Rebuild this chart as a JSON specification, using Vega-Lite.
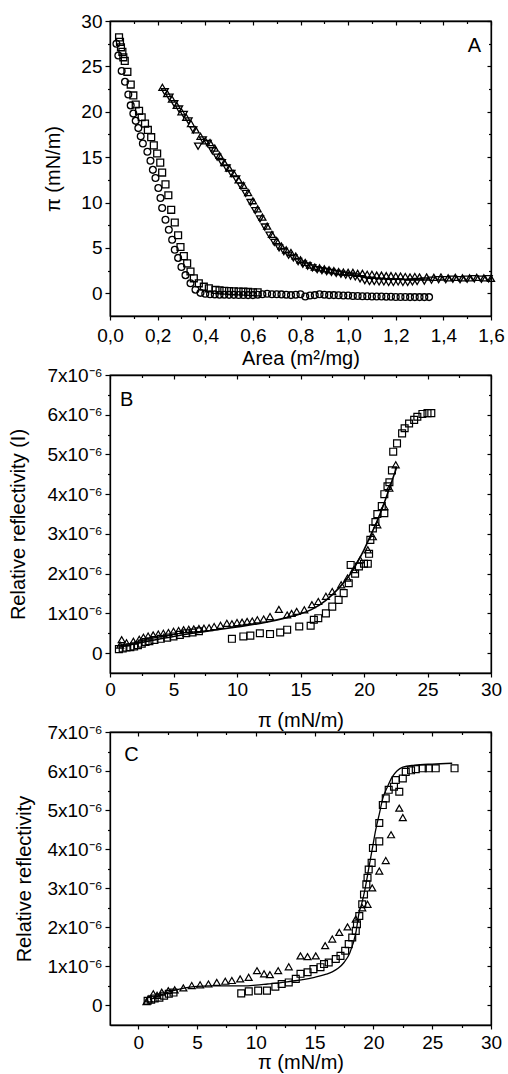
{
  "$schema": "https://vega.github.io/schema/vega-lite/v6.json",
  "background": "white",
  "padding": {"left": 8, "top": 11, "right": 0, "bottom": 0},
  "spacing": 59,
  "bounds": "flush",
  "config": {
    "font": "Liberation Sans",
    "view": {"stroke": "black", "strokeWidth": 1.3},
    "axis": {
      "grid": false,
      "labelFont": "Liberation Sans",
      "titleFont": "Liberation Sans",
      "labelFontSize": 19,
      "titleFontSize": 20,
      "titleFontWeight": "normal",
      "labelColor": "black",
      "titleColor": "black",
      "tickColor": "black",
      "domainColor": "black",
      "domainWidth": 1.3,
      "tickWidth": 1.2,
      "labelFlush": false,
      "labelOverlap": false
    }
  },
  "datasets": {
    "a": [
      {"s": "circle", "x": 0.027, "y": 27.5},
      {"s": "circle", "x": 0.035, "y": 26.2},
      {"s": "circle", "x": 0.049, "y": 24.5},
      {"s": "circle", "x": 0.063, "y": 23.3},
      {"s": "circle", "x": 0.077, "y": 21.9},
      {"s": "circle", "x": 0.087, "y": 20.7},
      {"s": "circle", "x": 0.098, "y": 19.8},
      {"s": "circle", "x": 0.108, "y": 19.0},
      {"s": "circle", "x": 0.119, "y": 18.2},
      {"s": "circle", "x": 0.129, "y": 17.3},
      {"s": "circle", "x": 0.138, "y": 16.5},
      {"s": "circle", "x": 0.157, "y": 15.6},
      {"s": "circle", "x": 0.170, "y": 14.6},
      {"s": "circle", "x": 0.180, "y": 13.6},
      {"s": "circle", "x": 0.191, "y": 12.7},
      {"s": "circle", "x": 0.203, "y": 11.6},
      {"s": "circle", "x": 0.212, "y": 10.5},
      {"s": "circle", "x": 0.219, "y": 9.4},
      {"s": "circle", "x": 0.233, "y": 8.1},
      {"s": "circle", "x": 0.247, "y": 7.0},
      {"s": "circle", "x": 0.261, "y": 5.9},
      {"s": "circle", "x": 0.272, "y": 4.8},
      {"s": "circle", "x": 0.286, "y": 3.9},
      {"s": "circle", "x": 0.300, "y": 2.9},
      {"s": "circle", "x": 0.317, "y": 2.0},
      {"s": "circle", "x": 0.338, "y": 1.1},
      {"s": "circle", "x": 0.359, "y": 0.4},
      {"s": "circle", "x": 0.380, "y": 0.05},
      {"s": "circle", "x": 0.40, "y": -0.05},
      {"s": "circle", "x": 0.42, "y": -0.1},
      {"s": "circle", "x": 0.44, "y": -0.12},
      {"s": "circle", "x": 0.46, "y": -0.15},
      {"s": "circle", "x": 0.48, "y": -0.15},
      {"s": "circle", "x": 0.50, "y": -0.17},
      {"s": "circle", "x": 0.52, "y": -0.17},
      {"s": "circle", "x": 0.54, "y": -0.18},
      {"s": "circle", "x": 0.56, "y": -0.18},
      {"s": "circle", "x": 0.58, "y": -0.2},
      {"s": "circle", "x": 0.60, "y": -0.2},
      {"s": "circle", "x": 0.62, "y": -0.15},
      {"s": "circle", "x": 0.64, "y": -0.1},
      {"s": "circle", "x": 0.66, "y": -0.05},
      {"s": "circle", "x": 0.68, "y": -0.1},
      {"s": "circle", "x": 0.70, "y": -0.1},
      {"s": "circle", "x": 0.72, "y": -0.12},
      {"s": "circle", "x": 0.74, "y": -0.15},
      {"s": "circle", "x": 0.76, "y": -0.2},
      {"s": "circle", "x": 0.78, "y": -0.15},
      {"s": "circle", "x": 0.80, "y": -0.1},
      {"s": "circle", "x": 0.82, "y": -0.35},
      {"s": "circle", "x": 0.84, "y": -0.25},
      {"s": "circle", "x": 0.86, "y": -0.2},
      {"s": "circle", "x": 0.88, "y": -0.1},
      {"s": "circle", "x": 0.90, "y": -0.15},
      {"s": "circle", "x": 0.92, "y": -0.2},
      {"s": "circle", "x": 0.94, "y": -0.2},
      {"s": "circle", "x": 0.96, "y": -0.22},
      {"s": "circle", "x": 0.98, "y": -0.25},
      {"s": "circle", "x": 1.00, "y": -0.25},
      {"s": "circle", "x": 1.02, "y": -0.3},
      {"s": "circle", "x": 1.04, "y": -0.3},
      {"s": "circle", "x": 1.06, "y": -0.32},
      {"s": "circle", "x": 1.08, "y": -0.32},
      {"s": "circle", "x": 1.10, "y": -0.35},
      {"s": "circle", "x": 1.12, "y": -0.35},
      {"s": "circle", "x": 1.14, "y": -0.35},
      {"s": "circle", "x": 1.16, "y": -0.37},
      {"s": "circle", "x": 1.18, "y": -0.37},
      {"s": "circle", "x": 1.20, "y": -0.4},
      {"s": "circle", "x": 1.22, "y": -0.4},
      {"s": "circle", "x": 1.24, "y": -0.4},
      {"s": "circle", "x": 1.26, "y": -0.42},
      {"s": "circle", "x": 1.28, "y": -0.42},
      {"s": "circle", "x": 1.30, "y": -0.42},
      {"s": "circle", "x": 1.32, "y": -0.42},
      {"s": "circle", "x": 1.34, "y": -0.42},
      {"s": "square", "x": 0.038, "y": 28.2},
      {"s": "square", "x": 0.042, "y": 27.7},
      {"s": "square", "x": 0.046, "y": 27.1},
      {"s": "square", "x": 0.052, "y": 26.6},
      {"s": "square", "x": 0.056, "y": 26.0},
      {"s": "square", "x": 0.062, "y": 25.6},
      {"s": "square", "x": 0.073, "y": 24.4},
      {"s": "square", "x": 0.087, "y": 23.0},
      {"s": "square", "x": 0.098, "y": 21.8},
      {"s": "square", "x": 0.108, "y": 20.8},
      {"s": "square", "x": 0.122, "y": 20.1},
      {"s": "square", "x": 0.133, "y": 19.4},
      {"s": "square", "x": 0.147, "y": 18.7},
      {"s": "square", "x": 0.159, "y": 18.0},
      {"s": "square", "x": 0.173, "y": 17.2},
      {"s": "square", "x": 0.184, "y": 16.3},
      {"s": "square", "x": 0.198, "y": 15.4},
      {"s": "square", "x": 0.211, "y": 14.4},
      {"s": "square", "x": 0.219, "y": 13.3},
      {"s": "square", "x": 0.233, "y": 12.0},
      {"s": "square", "x": 0.245, "y": 10.8},
      {"s": "square", "x": 0.257, "y": 9.2},
      {"s": "square", "x": 0.272, "y": 7.8},
      {"s": "square", "x": 0.286, "y": 6.4},
      {"s": "square", "x": 0.296, "y": 5.1},
      {"s": "square", "x": 0.310, "y": 4.1},
      {"s": "square", "x": 0.324, "y": 3.3},
      {"s": "square", "x": 0.338, "y": 2.4},
      {"s": "square", "x": 0.352, "y": 1.65},
      {"s": "square", "x": 0.373, "y": 1.1},
      {"s": "square", "x": 0.394, "y": 0.73},
      {"s": "square", "x": 0.415, "y": 0.55},
      {"s": "square", "x": 0.443, "y": 0.37},
      {"s": "square", "x": 0.46, "y": 0.32},
      {"s": "square", "x": 0.48, "y": 0.28},
      {"s": "square", "x": 0.50, "y": 0.25},
      {"s": "square", "x": 0.52, "y": 0.22},
      {"s": "square", "x": 0.54, "y": 0.2},
      {"s": "square", "x": 0.56, "y": 0.18},
      {"s": "square", "x": 0.58, "y": 0.15},
      {"s": "square", "x": 0.60, "y": 0.12},
      {"s": "square", "x": 0.62, "y": 0.1},
      {"s": "up", "x": 0.22, "y": 22.7},
      {"s": "up", "x": 0.24, "y": 22.0},
      {"s": "up", "x": 0.26, "y": 21.4},
      {"s": "up", "x": 0.28, "y": 20.7},
      {"s": "up", "x": 0.30, "y": 20.0},
      {"s": "up", "x": 0.32, "y": 19.4},
      {"s": "up", "x": 0.34, "y": 18.7},
      {"s": "up", "x": 0.36, "y": 18.0},
      {"s": "up", "x": 0.38, "y": 17.3},
      {"s": "up", "x": 0.40, "y": 16.8},
      {"s": "up", "x": 0.42, "y": 16.6},
      {"s": "up", "x": 0.44, "y": 16.0},
      {"s": "up", "x": 0.46, "y": 15.2},
      {"s": "up", "x": 0.48, "y": 14.4},
      {"s": "up", "x": 0.50, "y": 13.8},
      {"s": "up", "x": 0.52, "y": 13.2},
      {"s": "up", "x": 0.54, "y": 12.5},
      {"s": "up", "x": 0.56, "y": 11.9},
      {"s": "up", "x": 0.58, "y": 11.1},
      {"s": "up", "x": 0.60, "y": 10.2},
      {"s": "up", "x": 0.62, "y": 9.3},
      {"s": "up", "x": 0.64, "y": 8.4},
      {"s": "up", "x": 0.66, "y": 7.4},
      {"s": "up", "x": 0.68, "y": 6.5},
      {"s": "up", "x": 0.70, "y": 5.8},
      {"s": "up", "x": 0.72, "y": 5.2},
      {"s": "up", "x": 0.74, "y": 4.8},
      {"s": "up", "x": 0.76, "y": 4.5},
      {"s": "up", "x": 0.78, "y": 4.1},
      {"s": "up", "x": 0.80, "y": 3.7},
      {"s": "up", "x": 0.82, "y": 3.4},
      {"s": "up", "x": 0.84, "y": 3.1},
      {"s": "up", "x": 0.86, "y": 2.9},
      {"s": "up", "x": 0.88, "y": 2.8},
      {"s": "up", "x": 0.90, "y": 2.7},
      {"s": "up", "x": 0.92, "y": 2.6},
      {"s": "up", "x": 0.94, "y": 2.5},
      {"s": "up", "x": 0.96, "y": 2.4},
      {"s": "up", "x": 0.98, "y": 2.35},
      {"s": "up", "x": 1.00, "y": 2.3},
      {"s": "up", "x": 1.02, "y": 2.3},
      {"s": "up", "x": 1.04, "y": 2.2},
      {"s": "up", "x": 1.06, "y": 2.2},
      {"s": "up", "x": 1.08, "y": 2.1},
      {"s": "up", "x": 1.10, "y": 2.1},
      {"s": "up", "x": 1.12, "y": 2.0},
      {"s": "up", "x": 1.14, "y": 2.0},
      {"s": "up", "x": 1.16, "y": 1.95},
      {"s": "up", "x": 1.18, "y": 1.95},
      {"s": "up", "x": 1.20, "y": 1.9},
      {"s": "up", "x": 1.22, "y": 1.9},
      {"s": "up", "x": 1.24, "y": 1.85},
      {"s": "up", "x": 1.26, "y": 1.8},
      {"s": "up", "x": 1.28, "y": 1.85},
      {"s": "up", "x": 1.30, "y": 1.8},
      {"s": "up", "x": 1.33, "y": 1.8},
      {"s": "up", "x": 1.36, "y": 1.75},
      {"s": "up", "x": 1.39, "y": 1.8},
      {"s": "up", "x": 1.42, "y": 1.7},
      {"s": "up", "x": 1.45, "y": 1.75},
      {"s": "up", "x": 1.48, "y": 1.7},
      {"s": "up", "x": 1.51, "y": 1.7},
      {"s": "up", "x": 1.54, "y": 1.75},
      {"s": "up", "x": 1.57, "y": 1.7},
      {"s": "up", "x": 1.60, "y": 1.65},
      {"s": "down", "x": 0.23, "y": 22.2},
      {"s": "down", "x": 0.25, "y": 21.6},
      {"s": "down", "x": 0.27, "y": 20.9},
      {"s": "down", "x": 0.29, "y": 20.3},
      {"s": "down", "x": 0.31, "y": 19.7},
      {"s": "down", "x": 0.33, "y": 19.0},
      {"s": "down", "x": 0.35, "y": 18.0},
      {"s": "down", "x": 0.37, "y": 16.2},
      {"s": "down", "x": 0.39, "y": 16.9},
      {"s": "down", "x": 0.41, "y": 16.5},
      {"s": "down", "x": 0.43, "y": 15.7},
      {"s": "down", "x": 0.45, "y": 15.0},
      {"s": "down", "x": 0.47, "y": 14.4},
      {"s": "down", "x": 0.49, "y": 13.8},
      {"s": "down", "x": 0.51, "y": 13.2},
      {"s": "down", "x": 0.53, "y": 12.6},
      {"s": "down", "x": 0.55, "y": 11.8},
      {"s": "down", "x": 0.57, "y": 11.0},
      {"s": "down", "x": 0.59, "y": 10.0},
      {"s": "down", "x": 0.61, "y": 9.1},
      {"s": "down", "x": 0.63, "y": 8.2},
      {"s": "down", "x": 0.65, "y": 7.3},
      {"s": "down", "x": 0.67, "y": 6.4},
      {"s": "down", "x": 0.69, "y": 5.6},
      {"s": "down", "x": 0.71, "y": 5.0},
      {"s": "down", "x": 0.73, "y": 4.6},
      {"s": "down", "x": 0.75, "y": 4.2},
      {"s": "down", "x": 0.77, "y": 3.9},
      {"s": "down", "x": 0.79, "y": 3.5},
      {"s": "down", "x": 0.81, "y": 3.2},
      {"s": "down", "x": 0.83, "y": 3.0},
      {"s": "down", "x": 0.85, "y": 2.8},
      {"s": "down", "x": 0.87, "y": 2.6},
      {"s": "down", "x": 0.89, "y": 2.5},
      {"s": "down", "x": 0.91, "y": 2.4},
      {"s": "down", "x": 0.93, "y": 2.3},
      {"s": "down", "x": 0.95, "y": 2.2},
      {"s": "down", "x": 0.97, "y": 2.1},
      {"s": "down", "x": 0.99, "y": 2.0},
      {"s": "down", "x": 1.01, "y": 1.9},
      {"s": "down", "x": 1.03, "y": 1.8},
      {"s": "down", "x": 1.05, "y": 1.6},
      {"s": "down", "x": 1.07, "y": 1.4},
      {"s": "down", "x": 1.09, "y": 1.3},
      {"s": "down", "x": 1.11, "y": 1.3},
      {"s": "down", "x": 1.13, "y": 1.25},
      {"s": "down", "x": 1.15, "y": 1.25},
      {"s": "down", "x": 1.17, "y": 1.2},
      {"s": "down", "x": 1.19, "y": 1.2},
      {"s": "down", "x": 1.21, "y": 1.25},
      {"s": "down", "x": 1.23, "y": 1.2},
      {"s": "down", "x": 1.25, "y": 1.2},
      {"s": "down", "x": 1.27, "y": 1.25},
      {"s": "down", "x": 1.29, "y": 1.3},
      {"s": "down", "x": 1.32, "y": 1.35},
      {"s": "down", "x": 1.35, "y": 1.45},
      {"s": "down", "x": 1.38, "y": 1.5},
      {"s": "down", "x": 1.41, "y": 1.5},
      {"s": "down", "x": 1.44, "y": 1.55},
      {"s": "down", "x": 1.47, "y": 1.5},
      {"s": "down", "x": 1.50, "y": 1.55},
      {"s": "down", "x": 1.53, "y": 1.6},
      {"s": "down", "x": 1.56, "y": 1.55},
      {"s": "down", "x": 1.59, "y": 1.6}
    ],
    "b": [
      {"s": "square", "x": 0.7, "y": 1.0e-7},
      {"s": "square", "x": 1.0, "y": 1.2e-7},
      {"s": "square", "x": 1.3, "y": 1.4e-7},
      {"s": "square", "x": 1.6, "y": 1.5e-7},
      {"s": "square", "x": 1.9, "y": 1.7e-7},
      {"s": "square", "x": 2.2, "y": 2.0e-7},
      {"s": "square", "x": 2.5, "y": 2.4e-7},
      {"s": "square", "x": 2.8, "y": 2.8e-7},
      {"s": "square", "x": 3.1, "y": 3.0e-7},
      {"s": "square", "x": 3.5, "y": 3.3e-7},
      {"s": "square", "x": 4.0, "y": 3.6e-7},
      {"s": "square", "x": 4.5, "y": 3.9e-7},
      {"s": "square", "x": 5.0, "y": 4.2e-7},
      {"s": "square", "x": 5.5, "y": 4.6e-7},
      {"s": "square", "x": 6.0, "y": 5.0e-7},
      {"s": "square", "x": 6.5, "y": 5.2e-7},
      {"s": "square", "x": 7.0, "y": 5.5e-7},
      {"s": "square", "x": 9.6, "y": 3.6e-7},
      {"s": "square", "x": 10.5, "y": 4.2e-7},
      {"s": "square", "x": 11.05, "y": 4.4e-7},
      {"s": "square", "x": 11.8, "y": 5.0e-7},
      {"s": "square", "x": 12.6, "y": 4.8e-7},
      {"s": "square", "x": 13.4, "y": 5.2e-7},
      {"s": "square", "x": 13.95, "y": 5.9e-7},
      {"s": "square", "x": 14.9, "y": 6.7e-7},
      {"s": "square", "x": 15.8, "y": 6.9e-7},
      {"s": "square", "x": 16.05, "y": 8.4e-7},
      {"s": "square", "x": 16.4, "y": 8.8e-7},
      {"s": "square", "x": 17.0, "y": 1.0e-6},
      {"s": "square", "x": 17.5, "y": 1.17e-6},
      {"s": "square", "x": 18.0, "y": 1.34e-6},
      {"s": "square", "x": 18.4, "y": 1.51e-6},
      {"s": "square", "x": 18.8, "y": 1.76e-6},
      {"s": "square", "x": 18.95, "y": 2.22e-6},
      {"s": "square", "x": 19.3, "y": 2.0e-6},
      {"s": "square", "x": 19.6, "y": 2.18e-6},
      {"s": "square", "x": 20.0, "y": 2.25e-6},
      {"s": "square", "x": 20.3, "y": 2.25e-6},
      {"s": "square", "x": 20.4, "y": 2.5e-6},
      {"s": "square", "x": 20.5, "y": 2.85e-6},
      {"s": "square", "x": 20.7, "y": 3.14e-6},
      {"s": "square", "x": 20.9, "y": 3.3e-6},
      {"s": "square", "x": 21.05, "y": 3.5e-6},
      {"s": "square", "x": 21.4, "y": 3.7e-6},
      {"s": "square", "x": 21.6, "y": 3.52e-6},
      {"s": "square", "x": 21.6, "y": 4.0e-6},
      {"s": "square", "x": 21.85, "y": 4.2e-6},
      {"s": "square", "x": 22.0, "y": 4.3e-6},
      {"s": "square", "x": 22.2, "y": 4.6e-6},
      {"s": "square", "x": 22.3, "y": 5.07e-6},
      {"s": "square", "x": 22.6, "y": 5.28e-6},
      {"s": "square", "x": 23.0, "y": 5.53e-6},
      {"s": "square", "x": 23.2, "y": 5.66e-6},
      {"s": "square", "x": 23.55, "y": 5.78e-6},
      {"s": "square", "x": 23.95, "y": 5.87e-6},
      {"s": "square", "x": 24.2, "y": 5.95e-6},
      {"s": "square", "x": 24.6, "y": 6.02e-6},
      {"s": "square", "x": 25.0, "y": 6.04e-6},
      {"s": "square", "x": 25.3, "y": 6.04e-6},
      {"s": "up", "x": 0.8, "y": 2.0e-7},
      {"s": "up", "x": 0.92, "y": 3.4e-7},
      {"s": "up", "x": 1.3, "y": 2.6e-7},
      {"s": "up", "x": 1.84, "y": 3.0e-7},
      {"s": "up", "x": 2.3, "y": 3.5e-7},
      {"s": "up", "x": 2.63, "y": 4.0e-7},
      {"s": "up", "x": 3.0, "y": 4.3e-7},
      {"s": "up", "x": 3.4, "y": 4.6e-7},
      {"s": "up", "x": 3.8, "y": 4.8e-7},
      {"s": "up", "x": 4.2, "y": 5.0e-7},
      {"s": "up", "x": 4.6, "y": 5.2e-7},
      {"s": "up", "x": 5.0, "y": 5.5e-7},
      {"s": "up", "x": 5.4, "y": 5.7e-7},
      {"s": "up", "x": 5.8, "y": 5.9e-7},
      {"s": "up", "x": 6.2, "y": 6.0e-7},
      {"s": "up", "x": 6.6, "y": 6.1e-7},
      {"s": "up", "x": 7.0, "y": 6.2e-7},
      {"s": "up", "x": 7.4, "y": 6.3e-7},
      {"s": "up", "x": 7.8, "y": 6.4e-7},
      {"s": "up", "x": 8.2, "y": 6.7e-7},
      {"s": "up", "x": 8.7, "y": 7.0e-7},
      {"s": "up", "x": 9.2, "y": 7.5e-7},
      {"s": "up", "x": 9.6, "y": 7.4e-7},
      {"s": "up", "x": 10.0, "y": 7.7e-7},
      {"s": "up", "x": 10.4, "y": 7.8e-7},
      {"s": "up", "x": 10.8, "y": 8.0e-7},
      {"s": "up", "x": 11.2, "y": 8.1e-7},
      {"s": "up", "x": 11.6, "y": 8.4e-7},
      {"s": "up", "x": 12.1, "y": 8.6e-7},
      {"s": "up", "x": 12.6, "y": 9.2e-7},
      {"s": "up", "x": 13.3, "y": 1.1e-6},
      {"s": "up", "x": 13.95, "y": 9.6e-7},
      {"s": "up", "x": 14.3, "y": 1.0e-6},
      {"s": "up", "x": 14.7, "y": 1.05e-6},
      {"s": "up", "x": 15.3, "y": 1.09e-6},
      {"s": "up", "x": 15.9, "y": 1.22e-6},
      {"s": "up", "x": 16.4, "y": 1.3e-6},
      {"s": "up", "x": 17.0, "y": 1.43e-6},
      {"s": "up", "x": 17.5, "y": 1.55e-6},
      {"s": "up", "x": 18.2, "y": 1.72e-6},
      {"s": "up", "x": 18.7, "y": 1.89e-6},
      {"s": "up", "x": 19.2, "y": 2.1e-6},
      {"s": "up", "x": 19.7, "y": 2.35e-6},
      {"s": "up", "x": 20.3, "y": 2.6e-6},
      {"s": "up", "x": 20.7, "y": 2.93e-6},
      {"s": "up", "x": 21.05, "y": 3.23e-6},
      {"s": "up", "x": 21.6, "y": 3.69e-6},
      {"s": "up", "x": 22.0, "y": 4.15e-6},
      {"s": "up", "x": 22.5, "y": 4.74e-6},
      {"s": "line", "x": 0.7, "y": 1.5e-7},
      {"s": "line", "x": 1.5, "y": 2.0e-7},
      {"s": "line", "x": 2.5, "y": 2.7e-7},
      {"s": "line", "x": 3.5, "y": 3.3e-7},
      {"s": "line", "x": 5.0, "y": 4.2e-7},
      {"s": "line", "x": 6.5, "y": 5.0e-7},
      {"s": "line", "x": 8.0, "y": 5.7e-7},
      {"s": "line", "x": 10.0, "y": 6.6e-7},
      {"s": "line", "x": 12.0, "y": 7.6e-7},
      {"s": "line", "x": 14.0, "y": 9.0e-7},
      {"s": "line", "x": 15.0, "y": 9.9e-7},
      {"s": "line", "x": 16.0, "y": 1.12e-6},
      {"s": "line", "x": 17.0, "y": 1.33e-6},
      {"s": "line", "x": 18.0, "y": 1.63e-6},
      {"s": "line", "x": 19.0, "y": 2.03e-6},
      {"s": "line", "x": 19.5, "y": 2.3e-6},
      {"s": "line", "x": 20.0, "y": 2.6e-6},
      {"s": "line", "x": 20.5, "y": 2.95e-6},
      {"s": "line", "x": 21.0, "y": 3.3e-6},
      {"s": "line", "x": 21.5, "y": 3.7e-6},
      {"s": "line", "x": 22.0, "y": 4.15e-6},
      {"s": "line", "x": 22.6, "y": 4.7e-6}
    ],
    "c": [
      {"s": "square", "x": 0.8, "y": 1.2e-7},
      {"s": "square", "x": 1.1, "y": 1.5e-7},
      {"s": "square", "x": 1.4, "y": 1.8e-7},
      {"s": "square", "x": 1.8, "y": 2.0e-7},
      {"s": "square", "x": 2.2, "y": 2.5e-7},
      {"s": "square", "x": 2.6, "y": 3.0e-7},
      {"s": "square", "x": 3.0, "y": 3.3e-7},
      {"s": "square", "x": 8.76, "y": 3.1e-7},
      {"s": "square", "x": 9.4, "y": 3.6e-7},
      {"s": "square", "x": 10.2, "y": 3.8e-7},
      {"s": "square", "x": 10.95, "y": 3.8e-7},
      {"s": "square", "x": 11.66, "y": 4.8e-7},
      {"s": "square", "x": 12.2, "y": 5.5e-7},
      {"s": "square", "x": 12.8, "y": 5.9e-7},
      {"s": "square", "x": 13.4, "y": 6.8e-7},
      {"s": "square", "x": 13.8, "y": 8.1e-7},
      {"s": "square", "x": 14.4, "y": 8.5e-7},
      {"s": "square", "x": 14.9, "y": 9.3e-7},
      {"s": "square", "x": 15.5, "y": 9.8e-7},
      {"s": "square", "x": 15.8, "y": 1.06e-6},
      {"s": "square", "x": 16.2, "y": 1.1e-6},
      {"s": "square", "x": 16.8, "y": 1.19e-6},
      {"s": "square", "x": 17.2, "y": 1.27e-6},
      {"s": "square", "x": 17.6, "y": 1.4e-6},
      {"s": "square", "x": 17.9, "y": 1.57e-6},
      {"s": "square", "x": 18.2, "y": 1.74e-6},
      {"s": "square", "x": 18.5, "y": 1.91e-6},
      {"s": "square", "x": 18.6, "y": 2.08e-6},
      {"s": "square", "x": 18.8, "y": 2.29e-6},
      {"s": "square", "x": 19.05, "y": 2.59e-6},
      {"s": "square", "x": 19.2, "y": 2.84e-6},
      {"s": "square", "x": 19.4, "y": 3.1e-6},
      {"s": "square", "x": 19.5, "y": 3.27e-6},
      {"s": "square", "x": 19.6, "y": 3.48e-6},
      {"s": "square", "x": 19.85, "y": 3.65e-6},
      {"s": "square", "x": 19.96, "y": 4.03e-6},
      {"s": "square", "x": 20.5, "y": 4.2e-6},
      {"s": "square", "x": 20.5, "y": 4.67e-6},
      {"s": "square", "x": 20.8, "y": 5.13e-6},
      {"s": "square", "x": 21.05, "y": 5.3e-6},
      {"s": "square", "x": 21.3, "y": 5.52e-6},
      {"s": "square", "x": 21.75, "y": 5.6e-6},
      {"s": "square", "x": 21.9, "y": 5.77e-6},
      {"s": "square", "x": 22.2, "y": 5.47e-6},
      {"s": "square", "x": 22.5, "y": 5.81e-6},
      {"s": "square", "x": 22.75, "y": 5.98e-6},
      {"s": "square", "x": 23.2, "y": 6.02e-6},
      {"s": "square", "x": 23.6, "y": 6.05e-6},
      {"s": "square", "x": 24.2, "y": 6.07e-6},
      {"s": "square", "x": 24.7, "y": 6.07e-6},
      {"s": "square", "x": 25.3, "y": 6.07e-6},
      {"s": "square", "x": 26.9, "y": 6.07e-6},
      {"s": "up", "x": 0.7, "y": 1.0e-7},
      {"s": "up", "x": 0.91, "y": 1.7e-7},
      {"s": "up", "x": 1.28, "y": 3.0e-7},
      {"s": "up", "x": 1.6, "y": 2.6e-7},
      {"s": "up", "x": 2.0, "y": 3.4e-7},
      {"s": "up", "x": 2.56, "y": 3.8e-7},
      {"s": "up", "x": 3.1, "y": 4.0e-7},
      {"s": "up", "x": 3.84, "y": 4.5e-7},
      {"s": "up", "x": 4.55, "y": 5.1e-7},
      {"s": "up", "x": 5.26, "y": 5.3e-7},
      {"s": "up", "x": 5.97, "y": 5.5e-7},
      {"s": "up", "x": 6.68, "y": 5.9e-7},
      {"s": "up", "x": 7.4, "y": 6.2e-7},
      {"s": "up", "x": 7.96, "y": 6.4e-7},
      {"s": "up", "x": 8.67, "y": 6.8e-7},
      {"s": "up", "x": 9.39, "y": 7.2e-7},
      {"s": "up", "x": 10.1, "y": 8.9e-7},
      {"s": "up", "x": 10.7, "y": 8.1e-7},
      {"s": "up", "x": 11.2, "y": 7.9e-7},
      {"s": "up", "x": 11.9, "y": 8.9e-7},
      {"s": "up", "x": 12.8, "y": 9.9e-7},
      {"s": "up", "x": 13.8, "y": 1.27e-6},
      {"s": "up", "x": 14.4, "y": 1.25e-6},
      {"s": "up", "x": 15.1, "y": 1.27e-6},
      {"s": "up", "x": 15.9, "y": 1.53e-6},
      {"s": "up", "x": 16.5, "y": 1.7e-6},
      {"s": "up", "x": 17.1, "y": 1.87e-6},
      {"s": "up", "x": 17.8, "y": 2.01e-6},
      {"s": "up", "x": 18.5, "y": 2.21e-6},
      {"s": "up", "x": 19.05, "y": 2.5e-6},
      {"s": "up", "x": 19.5, "y": 2.59e-6},
      {"s": "up", "x": 19.9, "y": 3.01e-6},
      {"s": "up", "x": 20.5, "y": 3.44e-6},
      {"s": "up", "x": 21.05, "y": 3.71e-6},
      {"s": "up", "x": 21.5, "y": 4.37e-6},
      {"s": "up", "x": 22.2, "y": 5.05e-6},
      {"s": "up", "x": 22.5, "y": 4.81e-6},
      {"s": "line", "x": 1.0, "y": 1.5e-7},
      {"s": "line", "x": 2.0, "y": 2.8e-7},
      {"s": "line", "x": 3.0, "y": 3.8e-7},
      {"s": "line", "x": 4.0, "y": 4.5e-7},
      {"s": "line", "x": 5.0, "y": 4.9e-7},
      {"s": "line", "x": 6.0, "y": 5.0e-7},
      {"s": "line", "x": 7.0, "y": 5.0e-7},
      {"s": "line", "x": 8.0, "y": 5.0e-7},
      {"s": "line", "x": 9.0, "y": 5.0e-7},
      {"s": "line", "x": 10.0, "y": 5.2e-7},
      {"s": "line", "x": 11.0, "y": 5.5e-7},
      {"s": "line", "x": 12.0, "y": 5.8e-7},
      {"s": "line", "x": 13.0, "y": 6.2e-7},
      {"s": "line", "x": 14.0, "y": 6.6e-7},
      {"s": "line", "x": 15.0, "y": 7.2e-7},
      {"s": "line", "x": 16.0, "y": 8.0e-7},
      {"s": "line", "x": 16.5, "y": 8.6e-7},
      {"s": "line", "x": 17.0, "y": 9.5e-7},
      {"s": "line", "x": 17.5, "y": 1.1e-6},
      {"s": "line", "x": 18.0, "y": 1.35e-6},
      {"s": "line", "x": 18.5, "y": 1.85e-6},
      {"s": "line", "x": 18.8, "y": 2.4e-6},
      {"s": "line", "x": 19.0, "y": 2.6e-6},
      {"s": "line", "x": 19.3, "y": 3.0e-6},
      {"s": "line", "x": 19.6, "y": 3.5e-6},
      {"s": "line", "x": 19.9, "y": 4.0e-6},
      {"s": "line", "x": 20.2, "y": 4.5e-6},
      {"s": "line", "x": 20.5, "y": 4.9e-6},
      {"s": "line", "x": 20.8, "y": 5.3e-6},
      {"s": "line", "x": 21.2, "y": 5.6e-6},
      {"s": "line", "x": 21.6, "y": 5.85e-6},
      {"s": "line", "x": 22.0, "y": 6.0e-6},
      {"s": "line", "x": 22.5, "y": 6.1e-6},
      {"s": "line", "x": 23.5, "y": 6.15e-6},
      {"s": "line", "x": 25.0, "y": 6.18e-6},
      {"s": "line", "x": 26.7, "y": 6.2e-6}
    ]
  },
  "vconcat": [
    {
      "width": 381,
      "height": 295,
      "resolve": {"axis": {"x": "independent", "y": "independent"}},
      "layer": [
        {
          "data": {"name": "a"},
          "mark": {"type": "point", "filled": false, "stroke": "black", "strokeWidth": 1.3, "opacity": 1},
          "encoding": {
            "x": {"field": "x", "type": "quantitative",
              "scale": {"domain": [0, 1.6], "nice": false, "zero": false},
              "axis": {"orient": "bottom", "title": "Area (m²/mg)",
                "values": [0, 0.1, 0.2, 0.3, 0.4, 0.5, 0.6, 0.7, 0.8, 0.9, 1.0, 1.1, 1.2, 1.3, 1.4, 1.5, 1.6],
                "labelExpr": "round(datum.value*10) % 2 == 0 ? replace(format(datum.value, '.1f'), '.', ',') : ''",
                "tickSize": {"condition": {"test": "round(datum.value*10) % 2 == 1", "value": 2.5}, "value": 4},
                "labelPadding": 6, "titlePadding": 3}},
            "y": {"field": "y", "type": "quantitative",
              "scale": {"domain": [-2.5, 30], "nice": false, "zero": false},
              "axis": {"orient": "left", "title": "π (mN/m)",
                "values": [0, 2.5, 5, 7.5, 10, 12.5, 15, 17.5, 20, 22.5, 25, 27.5, 30],
                "labelExpr": "datum.value % 5 == 0 ? format(datum.value, 'd') : ''",
                "tickSize": {"condition": {"test": "datum.value % 5 != 0", "value": 2.5}, "value": 5},
                "labelPadding": 3, "titlePadding": 17}},
            "shape": {"field": "s", "type": "nominal",
              "scale": {"domain": ["circle", "square", "up", "down"], "range": ["circle", "square", "triangle-up", "triangle-down"]},
              "legend": null},
            "size": {"field": "s", "type": "nominal",
              "scale": {"domain": ["circle", "square", "up", "down"], "range": [46, 50, 105, 105]},
              "legend": null}
          }
        },
        {
          "data": {"values": [{"x": 1.53, "y": 27.3, "label": "A"}]},
          "mark": {"type": "text", "fontSize": 20, "font": "Liberation Sans", "color": "black"},
          "encoding": {
            "x": {"field": "x", "type": "quantitative",
              "scale": {"domain": [0, 1.6], "nice": false, "zero": false},
              "axis": {"orient": "top", "title": null, "labels": false,
                "values": [0, 0.1, 0.2, 0.3, 0.4, 0.5, 0.6, 0.7, 0.8, 0.9, 1.0, 1.1, 1.2, 1.3, 1.4, 1.5, 1.6],
                "tickSize": {"condition": {"test": "round(datum.value*10) % 2 == 1", "value": -2.5}, "value": -4}}},
            "y": {"field": "y", "type": "quantitative",
              "scale": {"domain": [-2.5, 30], "nice": false, "zero": false},
              "axis": {"orient": "right", "title": null, "labels": false,
                "values": [0, 2.5, 5, 7.5, 10, 12.5, 15, 17.5, 20, 22.5, 25, 27.5, 30],
                "tickSize": {"condition": {"test": "datum.value % 5 != 0", "value": -2.5}, "value": -4}}},
            "text": {"field": "label"}
          }
        }
      ]
    },
    {
      "width": 381,
      "height": 298,
      "resolve": {"axis": {"x": "independent", "y": "independent"}},
      "layer": [
        {
          "data": {"name": "b"},
          "transform": [{"filter": "datum.s != 'line'"}],
          "mark": {"type": "point", "filled": false, "stroke": "black", "strokeWidth": 1.2, "opacity": 1},
          "encoding": {
            "x": {"field": "x", "type": "quantitative",
              "scale": {"domain": [0, 30], "nice": false, "zero": false},
              "axis": {"orient": "bottom", "title": "π (mN/m)",
                "values": [0, 2.5, 5, 7.5, 10, 12.5, 15, 17.5, 20, 22.5, 25, 27.5, 30],
                "labelExpr": "datum.value % 5 == 0 ? format(datum.value, 'd') : ''",
                "tickSize": {"condition": {"test": "datum.value % 5 != 0", "value": 2.5}, "value": 4},
                "labelPadding": 3, "titlePadding": 11}},
            "y": {"field": "y", "type": "quantitative",
              "scale": {"domain": [-5e-7, 7e-6], "nice": false, "zero": false},
              "axis": {"orient": "left", "title": "Relative reflectivity (I)",
                "values": [0, 5e-7, 1e-6, 1.5e-6, 2e-6, 2.5e-6, 3e-6, 3.5e-6, 4e-6, 4.5e-6, 5e-6, 5.5e-6, 6e-6, 6.5e-6, 7e-6],
                "labelExpr": "abs(datum.value*1e6 - round(datum.value*1e6)) > 0.01 ? '' : (abs(datum.value) < 1e-9 ? '0' : round(datum.value*1e6) + 'x10⁻⁶')",
                "tickSize": {"condition": {"test": "abs(datum.value*1e6 - round(datum.value*1e6)) > 0.01", "value": 2.5}, "value": 5},
                "labelPadding": 3, "titlePadding": 18}},
            "shape": {"field": "s", "type": "nominal",
              "scale": {"domain": ["square", "up"], "range": ["square", "triangle-up"]},
              "legend": null},
            "size": {"field": "s", "type": "nominal",
              "scale": {"domain": ["square", "up"], "range": [64, 110]},
              "legend": null}
          }
        },
        {
          "data": {"name": "b"},
          "transform": [{"filter": "datum.s == 'line'"}],
          "mark": {"type": "line", "color": "black", "strokeWidth": 1.6, "interpolate": "monotone"},
          "encoding": {
            "x": {"field": "x", "type": "quantitative",
              "scale": {"domain": [0, 30], "nice": false, "zero": false},
              "axis": {"orient": "top", "title": null, "labels": false,
                "values": [0, 2.5, 5, 7.5, 10, 12.5, 15, 17.5, 20, 22.5, 25, 27.5, 30],
                "tickSize": {"condition": {"test": "datum.value % 5 != 0", "value": -2.5}, "value": -4}}},
            "y": {"field": "y", "type": "quantitative",
              "scale": {"domain": [-5e-7, 7e-6], "nice": false, "zero": false},
              "axis": {"orient": "right", "title": null, "labels": false,
                "values": [0, 5e-7, 1e-6, 1.5e-6, 2e-6, 2.5e-6, 3e-6, 3.5e-6, 4e-6, 4.5e-6, 5e-6, 5.5e-6, 6e-6, 6.5e-6, 7e-6],
                "tickSize": {"condition": {"test": "abs(datum.value*1e6 - round(datum.value*1e6)) > 0.01", "value": -2.5}, "value": -4}}}
          }
        },
        {
          "data": {"values": [{"x": 1.32, "y": 6.37e-6, "label": "B"}]},
          "mark": {"type": "text", "fontSize": 20, "font": "Liberation Sans", "color": "black"},
          "encoding": {
            "x": {"field": "x", "type": "quantitative", "axis": null},
            "y": {"field": "y", "type": "quantitative", "axis": null},
            "text": {"field": "label"}
          }
        }
      ]
    },
    {
      "width": 381,
      "height": 293,
      "resolve": {"axis": {"x": "independent", "y": "independent"}},
      "layer": [
        {
          "data": {"name": "c"},
          "transform": [{"filter": "datum.s != 'line'"}],
          "mark": {"type": "point", "filled": false, "stroke": "black", "strokeWidth": 1.2, "opacity": 1},
          "encoding": {
            "x": {"field": "x", "type": "quantitative",
              "scale": {"domain": [-2.4, 30], "nice": false, "zero": false},
              "axis": {"orient": "bottom", "title": "π (mN/m)",
                "values": [0, 2.5, 5, 7.5, 10, 12.5, 15, 17.5, 20, 22.5, 25, 27.5, 30],
                "labelExpr": "datum.value % 5 == 0 ? format(datum.value, 'd') : ''",
                "tickSize": {"condition": {"test": "datum.value % 5 != 0", "value": 2.5}, "value": 4},
                "labelPadding": 4, "titlePadding": 0}},
            "y": {"field": "y", "type": "quantitative",
              "scale": {"domain": [-5e-7, 7e-6], "nice": false, "zero": false},
              "axis": {"orient": "left", "title": "Relative reflectivity",
                "values": [0, 5e-7, 1e-6, 1.5e-6, 2e-6, 2.5e-6, 3e-6, 3.5e-6, 4e-6, 4.5e-6, 5e-6, 5.5e-6, 6e-6, 6.5e-6, 7e-6],
                "labelExpr": "abs(datum.value*1e6 - round(datum.value*1e6)) > 0.01 ? '' : (abs(datum.value) < 1e-9 ? '0' : round(datum.value*1e6) + 'x10⁻⁶')",
                "tickSize": {"condition": {"test": "abs(datum.value*1e6 - round(datum.value*1e6)) > 0.01", "value": 2.5}, "value": 5},
                "labelPadding": 3, "titlePadding": 12}},
            "shape": {"field": "s", "type": "nominal",
              "scale": {"domain": ["square", "up"], "range": ["square", "triangle-up"]},
              "legend": null},
            "size": {"field": "s", "type": "nominal",
              "scale": {"domain": ["square", "up"], "range": [64, 100]},
              "legend": null}
          }
        },
        {
          "data": {"name": "c"},
          "transform": [{"filter": "datum.s == 'line'"}],
          "mark": {"type": "line", "color": "black", "strokeWidth": 1.3, "interpolate": "monotone"},
          "encoding": {
            "x": {"field": "x", "type": "quantitative",
              "scale": {"domain": [-2.4, 30], "nice": false, "zero": false},
              "axis": {"orient": "top", "title": null, "labels": false,
                "values": [0, 2.5, 5, 7.5, 10, 12.5, 15, 17.5, 20, 22.5, 25, 27.5, 30],
                "tickSize": {"condition": {"test": "datum.value % 5 != 0", "value": -2.5}, "value": -4}}},
            "y": {"field": "y", "type": "quantitative",
              "scale": {"domain": [-5e-7, 7e-6], "nice": false, "zero": false},
              "axis": {"orient": "right", "title": null, "labels": false,
                "values": [0, 5e-7, 1e-6, 1.5e-6, 2e-6, 2.5e-6, 3e-6, 3.5e-6, 4e-6, 4.5e-6, 5e-6, 5.5e-6, 6e-6, 6.5e-6, 7e-6],
                "tickSize": {"condition": {"test": "abs(datum.value*1e6 - round(datum.value*1e6)) > 0.01", "value": -2.5}, "value": -4}}}
          }
        },
        {
          "data": {"values": [{"x": -0.57, "y": 6.41e-6, "label": "C"}]},
          "mark": {"type": "text", "fontSize": 20, "font": "Liberation Sans", "color": "black"},
          "encoding": {
            "x": {"field": "x", "type": "quantitative", "axis": null},
            "y": {"field": "y", "type": "quantitative", "axis": null},
            "text": {"field": "label"}
          }
        }
      ]
    }
  ]
}
